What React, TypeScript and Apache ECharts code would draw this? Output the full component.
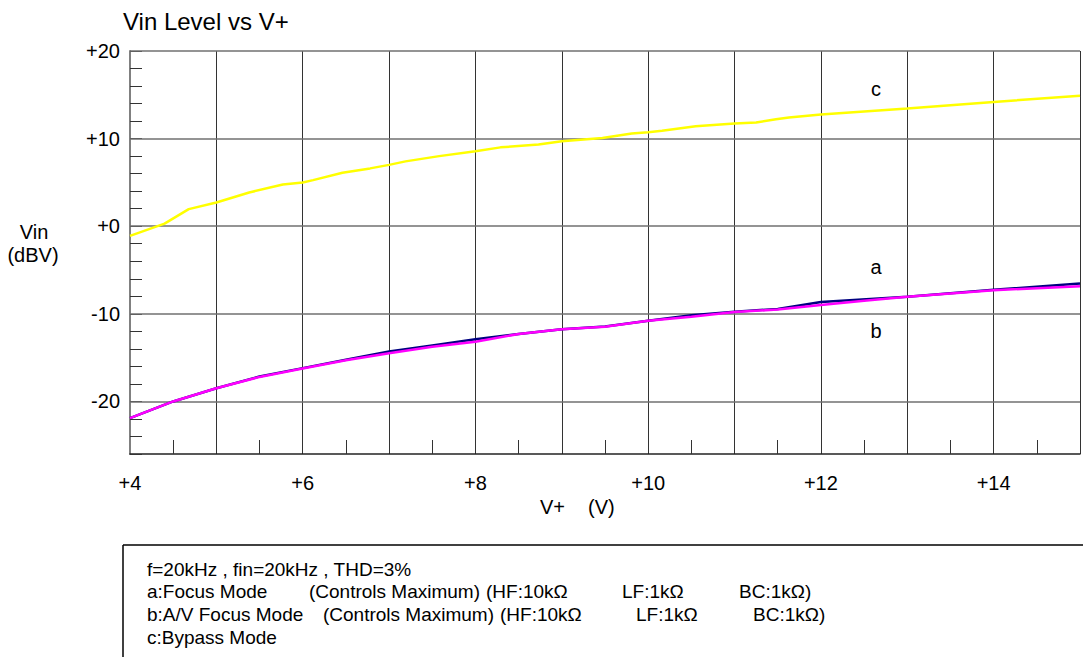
import React, { useEffect, useRef } from 'react';
import * as echarts from 'echarts';

// V+ (V) sample points and Vin (dBV) values
const aX = [4, 4.5, 5, 5.5, 6, 6.5, 7, 7.5, 8, 8.5, 9, 9.5, 10, 10.5, 11, 11.5, 12, 13, 14, 15];
const aY = [-21.9, -20.0, -18.5, -17.15, -16.2, -15.25, -14.3, -13.6, -12.9, -12.3, -11.77, -11.45, -10.8, -10.17, -9.76, -9.45, -8.65, -8.05, -7.25, -6.55];

const bX = [4, 4.5, 5, 5.5, 6, 6.5, 7, 7.5, 8, 8.5, 9, 9.5, 10, 10.5, 11, 11.5, 12, 12.5, 13, 14, 15];
const bY = [-21.9, -20.0, -18.5, -17.2, -16.25, -15.3, -14.5, -13.75, -13.18, -12.3, -11.77, -11.47, -10.8, -10.33, -9.8, -9.5, -9.0, -8.5, -8.05, -7.3, -6.85];

const cX = [4, 4.4, 4.68, 5, 5.38, 5.77, 6, 6.12, 6.46, 6.78, 7, 7.19, 7.58, 8, 8.29, 8.73, 9, 9.47, 9.81, 10, 10.16, 10.55, 11, 11.25, 11.48, 11.63, 12, 13, 14, 15];
const cY = [-1.1, 0.3, 1.95, 2.7, 3.85, 4.77, 5.0, 5.26, 6.1, 6.6, 7.0, 7.4, 8.0, 8.55, 9.0, 9.33, 9.7, 10.08, 10.58, 10.73, 10.9, 11.41, 11.72, 11.85, 12.2, 12.4, 12.75, 13.43, 14.18, 14.9];

const hGridValues = [-20, -10, 0, 10, 20];

const titleText = 'Vin Level vs V+';
const yNameLines = ['Vin', '(dBV)'];
const xNameParts = ['V+', '(V)'];
const seriesNames = ['a', 'b', 'c'];
const noteLine1 = 'f=20kHz , fin=20kHz , THD=3%';
const noteA = ['a:Focus Mode', '(Controls Maximum)', '(HF:10kΩ', 'LF:1kΩ', 'BC:1kΩ)'];
const noteB = ['b:A/V Focus Mode', '(Controls Maximum)', '(HF:10kΩ', 'LF:1kΩ', 'BC:1kΩ)'];
const noteC = 'c:Bypass Mode';

const FONT = '"Liberation Sans", Arial, Helvetica, sans-serif';

function zip(xs: number[], ys: number[]) {
  return xs.map((x, i) => [x, ys[i]]);
}

export default function App() {
  const ref = useRef<HTMLDivElement>(null);

  useEffect(() => {
    if (!ref.current) return;
    const chart = echarts.init(ref.current, null, { renderer: 'svg' });

    const txt = (text: string, x: number, y: number, opts: any = {}) => ({
      type: 'text',
      x,
      y,
      silent: true,
      style: {
        text,
        fill: '#000',
        font: `${opts.size || 20}px ${FONT}`,
        textAlign: opts.align || 'left',
        textVerticalAlign: 'middle',
      },
    });

    const noteSize = 19;
    const noteYs = [569, 591, 614, 637];
    const aXs = [147, 309, 486, 622, 739];
    const bXs = [147, 323, 500, 636, 753];

    chart.setOption({
      animation: false,
      backgroundColor: '#fff',
      textStyle: { fontFamily: FONT },
      grid: { left: 130, right: 0, top: 51, bottom: 203, containLabel: false },
      xAxis: {
        type: 'value',
        min: 4,
        max: 15,
        interval: 1,
        axisLine: { show: true, onZero: false, lineStyle: { color: '#222', width: 1.5 } },
        axisTick: { show: false, inside: true },
        minorTick: { show: true, splitNumber: 2, length: 14, lineStyle: { color: '#333', width: 1 } },
        axisLabel: {
          formatter: (v: number) => (v % 2 === 0 ? '+' + v : ''),
          fontSize: 20,
          color: '#000',
          margin: 19,
          fontFamily: FONT,
        },
        splitLine: { show: true, lineStyle: { color: '#333', width: 1 } },
      },
      yAxis: {
        type: 'value',
        min: -26,
        max: 20,
        interval: 2,
        axisLine: { show: true, onZero: false, lineStyle: { color: '#808080', width: 2 } },
        axisTick: { show: true, inside: true, length: 12, lineStyle: { color: '#333', width: 1 } },
        axisLabel: {
          formatter: (v: number) => (v % 10 === 0 ? (v >= 0 ? '+' + v : String(v)) : ''),
          fontSize: 20,
          color: '#000',
          margin: 10,
          fontFamily: FONT,
        },
        splitLine: { show: false },
      },
      series: [
        {
          name: seriesNames[0],
          type: 'line',
          data: zip(aX, aY),
          showSymbol: false,
          z: 3,
          lineStyle: { color: '#000080', width: 2.5 },
          markLine: {
            silent: true,
            z: 1,
            symbol: 'none',
            label: { show: false },
            lineStyle: { color: '#707070', width: 1.5, type: 'solid' },
            data: hGridValues.map((v) => ({ yAxis: v })),
          },
        },
        {
          name: seriesNames[1],
          type: 'line',
          data: zip(bX, bY),
          showSymbol: false,
          z: 4,
          lineStyle: { color: '#ff00ff', width: 2.5 },
        },
        {
          name: seriesNames[2],
          type: 'line',
          data: zip(cX, cY),
          showSymbol: false,
          z: 5,
          lineStyle: { color: '#ffff00', width: 2.5 },
        },
      ],
      graphic: [
        txt(titleText, 123, 21, { size: 24 }),
        txt(yNameLines[0], 34, 232, { align: 'center' }),
        txt(yNameLines[1], 33, 255, { align: 'center' }),
        txt(xNameParts[0], 540, 507),
        txt(xNameParts[1], 588, 507),
        txt(seriesNames[2], 876, 89, { align: 'center' }),
        txt(seriesNames[0], 876, 267, { align: 'center' }),
        txt(seriesNames[1], 876, 331, { align: 'center' }),
        {
          type: 'line',
          silent: true,
          shape: { x1: 123, y1: 545, x2: 1083, y2: 545 },
          style: { stroke: '#000', lineWidth: 1.5 },
        },
        {
          type: 'line',
          silent: true,
          shape: { x1: 123, y1: 545, x2: 123, y2: 657 },
          style: { stroke: '#000', lineWidth: 1.5 },
        },
        txt(noteLine1, aXs[0], noteYs[0], { size: noteSize }),
        ...noteA.map((s, i) => txt(s, aXs[i], noteYs[1], { size: noteSize })),
        ...noteB.map((s, i) => txt(s, bXs[i], noteYs[2], { size: noteSize })),
        txt(noteC, aXs[0], noteYs[3], { size: noteSize }),
      ],
    });

    return () => chart.dispose();
  }, []);

  return (
    <div
      ref={ref}
      style={{ position: 'absolute', left: 0, top: 0, width: 1083, height: 657, background: '#fff' }}
    />
  );
}
